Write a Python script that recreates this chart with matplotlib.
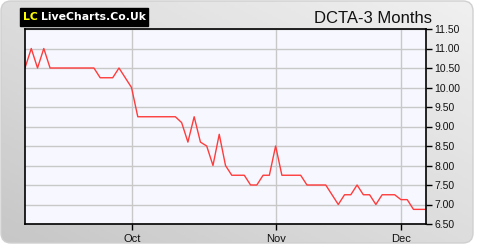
import numpy as np
import matplotlib.pyplot as plt
from matplotlib.patches import FancyBboxPatch

# daily closing prices (trading-day index)
prices = [10.5, 11.0, 10.5, 11.0, 10.5, 10.5, 10.5, 10.5, 10.5, 10.5,
          10.5, 10.5, 10.25, 10.25, 10.25, 10.5, 10.25, 10.0, 9.25, 9.25,
          9.25, 9.25, 9.25, 9.25, 9.25, 9.1, 8.6, 9.25, 8.6, 8.5,
          8.0, 8.8, 8.0, 7.75, 7.75, 7.75, 7.5, 7.5, 7.75, 7.75,
          8.5, 7.75, 7.75, 7.75, 7.75, 7.5, 7.5, 7.5, 7.5, 7.25,
          7.0, 7.25, 7.25, 7.5, 7.25, 7.25, 7.0, 7.25, 7.25, 7.25,
          7.125, 7.125, 6.875, 6.875, 6.875]
month_pos = [17.1, 40, 60]
month_labels = ["Oct", "Nov", "Dec"]
y_ticks = [6.5, 7.0, 7.5, 8.0, 8.5, 9.0, 9.5, 10.0, 10.5, 11.0, 11.5]
title = "DCTA-3 Months"

W, H = 480, 250
fig = plt.figure(figsize=(W / 100, H / 100), dpi=100)
fig.patch.set_facecolor("white")

# rounded grey frame with a soft gradient
bg = fig.add_axes([0, 0, 1, 1])
bg.set_xlim(0, W)
bg.set_ylim(H, 0)
bg.axis("off")
gx = np.linspace(0, 1, 200)
gy = np.linspace(0, 1, 100)
grad = 0.5 * gx[None, :] + 0.5 * (1 - gy[:, None])
img = bg.imshow(grad, cmap="Greys_r", vmin=-3.2, vmax=1.6,
                extent=[0, 474, 244, 0], aspect="auto")
frame = FancyBboxPatch((1, 1), 472, 242, boxstyle="round,pad=0,rounding_size=10",
                       transform=bg.transData, fc="none", ec="#d0d0d0", lw=1)
bg.add_patch(frame)
img.set_clip_path(frame)

# logo
bg.add_patch(plt.Rectangle((20, 8), 128, 18, color="black"))
bg.text(23, 17.5, "LC", color="#ffff00", fontsize=7.8, fontweight="bold",
        va="center", family="DejaVu Sans")
bg.text(41, 17.5, "LiveCharts.Co.Uk", color="white", fontsize=7.8,
        fontweight="bold", va="center", family="DejaVu Sans")
bg.text(432, 23, title, ha="right", va="baseline", fontsize=12,
        family="Liberation Sans", color="#111111")

ax = fig.add_axes([25 / W, 1 - 224 / H, 401 / W, 195 / H])
ax.set_facecolor("#f7f8ff")
x = np.arange(len(prices))
ax.plot(x, prices, color="#ff3b3b", lw=1)
ax.set_xlim(0, len(prices) - 1)
ax.set_ylim(6.5, 11.5)

ax.set_xticks(month_pos)
ax.set_xticklabels(month_labels)
ax.set_yticks(y_ticks)
ax.set_yticklabels([f"{v:.2f}" for v in y_ticks])
ax.yaxis.tick_right()
ax.tick_params(axis="both", direction="out", length=4, width=1, colors="black",
               labelsize=7.5, pad=2)
ax.tick_params(axis="x", labelsize=8, pad=3)
for lab in ax.get_xticklabels() + ax.get_yticklabels():
    lab.set_family("Liberation Sans")
    lab.set_color("#111111")
ax.grid(True, color="#c8c8c8", lw=1)
ax.set_axisbelow(True)
for s in ax.spines.values():
    s.set_color("black")
    s.set_linewidth(1.2)

fig.savefig("out.png", dpi=100)
